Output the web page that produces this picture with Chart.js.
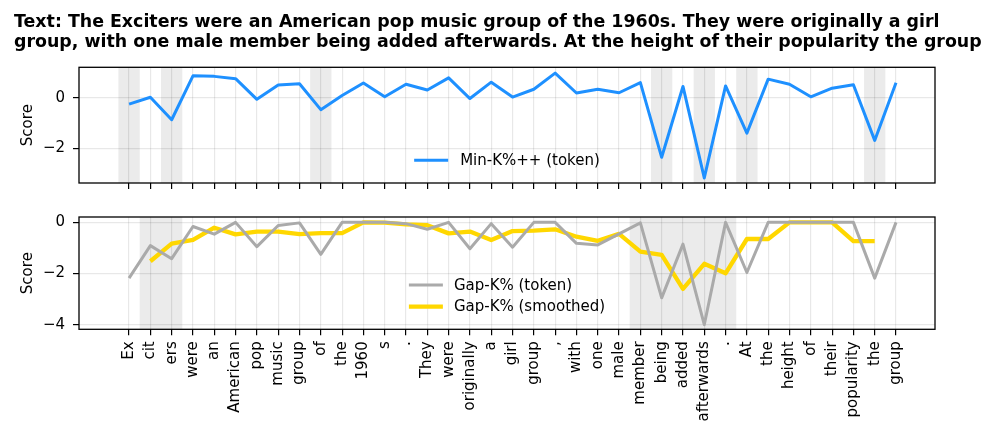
<!DOCTYPE html>
<html><head><meta charset="utf-8">
<script src="https://cdn.jsdelivr.net/npm/chart.js@4.4.1/dist/chart.umd.min.js"></script>
<style>
html,body{margin:0;padding:0;background:#fff;}
#wrap{position:relative;width:997px;height:445px;overflow:hidden;background:#fff;}
canvas{position:absolute;left:0;}
</style></head><body>
<div id="wrap">
<canvas id="c1" width="997" height="200" style="top:0"></canvas>
<canvas id="c2" width="997" height="245" style="top:200px"></canvas>
</div>
<script>
// ---------------- data ----------------
const titleLines = [
  "Text: The Exciters were an American pop music group of the 1960s. They were originally a girl",
  "group, with one male member being added afterwards. At the height of their popularity the group"
];
const tokens = ["Ex","cit","ers","were","an","American","pop","music","group","of","the","1960","s",".","They","were","originally","a","girl","group",",","with","one","male","member","being","added","afterwards",".","At","the","height","of","their","popularity","the","group"];
const minKToken = [-0.25, 0.02, -0.87, 0.87, 0.85, 0.76, -0.06, 0.51, 0.56, -0.47, 0.09, 0.59, 0.04, 0.54, 0.31, 0.79, -0.03, 0.62, 0.03, 0.34, 0.98, 0.19, 0.34, 0.20, 0.60, -2.36, 0.45, -3.18, 0.47, -1.40, 0.74, 0.54, 0.04, 0.38, 0.52, -1.69, 0.60];
const gapKToken = [-2.18, -0.91, -1.42, -0.16, -0.46, 0, -0.95, -0.12, -0.02, -1.25, 0, 0, 0, -0.05, -0.27, 0, -1.03, -0.05, -0.97, 0, 0, -0.82, -0.88, -0.45, -0.02, -2.95, -0.85, -4.0, 0, -1.96, 0, 0, 0, 0, 0, -2.18, 0];
const gapKSmoothed = [null, -1.52, -0.83, -0.68, -0.21, -0.47, -0.36, -0.36, -0.46, -0.42, -0.42, 0, -0.01, -0.08, -0.11, -0.43, -0.36, -0.69, -0.34, -0.32, -0.27, -0.56, -0.72, -0.45, -1.14, -1.27, -2.60, -1.62, -1.99, -0.65, -0.65, 0, 0, 0, -0.73, -0.73, null];
const topShaded = [0, 2, 9, 25, 27, 29, 35];
const bottomShaded = [1, 2, 24, 25, 26, 27, 28];
const topYTicks = [0, -2];
const bottomYTicks = [0, -2, -4];

// ---------------- style ----------------
const FONT = "'DejaVu Sans', 'Liberation Sans', sans-serif";
Chart.defaults.font.family = FONT;
Chart.defaults.font.size = 15;
Chart.defaults.color = '#000';
Chart.defaults.animation = false;
const GRID = 'rgba(0,0,0,0.09)';
const fmt = v => (v < 0 ? '\u2212' + Math.abs(v) : String(v));

function mergeSpans(idx) {
  const s = [...idx].sort((a, b) => a - b), out = [];
  s.forEach(i => {
    if (out.length && out[out.length - 1][1] === i - 0.5) out[out.length - 1][1] = i + 0.5;
    else out.push([i - 0.5, i + 0.5]);
  });
  return out;
}

const shadePlugin = {
  id: 'shade',
  beforeDraw(chart, args, opts) {
    const { ctx, chartArea: a, scales: { x } } = chart;
    ctx.save();
    ctx.fillStyle = opts.color;
    mergeSpans(opts.indices || []).forEach(([l, r]) => {
      const x0 = x.getPixelForValue(l), x1 = x.getPixelForValue(r);
      ctx.fillRect(x0, a.top, x1 - x0, a.bottom - a.top);
    });
    ctx.restore();
  }
};
const legendPlugin = {
  id: 'inLegend',
  afterDatasetsDraw(chart, args, opts) {
    const { ctx, chartArea: a } = chart;
    const ds = chart.data.datasets;
    ctx.save();
    ctx.font = '15px ' + FONT;
    const tw = Math.max(...ds.map(d => ctx.measureText(d.label).width));
    const total = opts.sample + opts.gap + tw;
    const left = (a.left + a.right) / 2 - total / 2;
    ds.forEach((d, k) => {
      const cy = a.bottom - opts.bottomOffset - (ds.length - 1 - k) * opts.spacing;
      ctx.strokeStyle = d.borderColor; ctx.lineWidth = d.borderWidth; ctx.lineCap = 'butt';
      ctx.beginPath(); ctx.moveTo(left, cy); ctx.lineTo(left + opts.sample, cy); ctx.stroke();
      ctx.fillStyle = '#000'; ctx.textBaseline = 'middle'; ctx.textAlign = 'left';
      ctx.fillText(d.label, left + opts.sample + opts.gap, cy + 1);
    });
    ctx.restore();
  }
};
const framePlugin = {
  id: 'frame',
  afterDraw(chart) {
    const { ctx, chartArea: a } = chart;
    ctx.save();
    ctx.strokeStyle = '#000'; ctx.lineWidth = 1.3;
    ctx.strokeRect(a.left, a.top, a.right - a.left, a.bottom - a.top);
    ctx.restore();
  }
};
// Multi-line title drawn without width squeezing
const textTitlePlugin = {
  id: 'textTitle',
  afterDraw(chart, args, opts) {
    const { ctx } = chart;
    ctx.save();
    ctx.font = 'bold ' + opts.size + 'px ' + FONT;
    ctx.fillStyle = '#000'; ctx.textAlign = 'left'; ctx.textBaseline = 'alphabetic';
    opts.lines.forEach((t, k) => ctx.fillText(t, opts.x, opts.baseline + k * opts.lineGap));
    ctx.restore();
  }
};

const xIdx = tokens.map((t, i) => i);
function xAxis(showLabels, height) {
  return {
    type: 'linear', min: -2.35, max: 37.83,
    afterBuildTicks: s => { s.ticks = xIdx.map(v => ({ value: v })); },
    afterFit: s => { s.height = height; },
    ticks: {
      display: showLabels, autoSkip: false, minRotation: 90, maxRotation: 90, padding: 6,
      callback: v => tokens[v]
    },
    grid: { color: GRID, lineWidth: 1.2, tickColor: '#000', tickWidth: 1.2, tickLength: 6, drawTicks: true },
    border: { display: false }
  };
}
function yAxis(min, max, ticks) {
  return {
    min, max,
    afterBuildTicks: s => { s.ticks = ticks.map(v => ({ value: v })); },
    afterFit: s => { s.width = 65; },
    ticks: { callback: v => fmt(v), padding: 8 },
    grid: { color: GRID, lineWidth: 1.2, tickColor: '#000', tickWidth: 1.2, tickLength: 6, drawTicks: true },
    border: { display: false },
    title: { display: true, text: 'Score', padding: { top: 5, bottom: 0 } }
  };
}

new Chart(document.getElementById('c1'), {
  type: 'line',
  data: {
    labels: xIdx,
    datasets: [{
      label: 'Min-K%++ (token)', data: minKToken.map((v, i) => ({ x: i, y: v })),
      borderColor: '#1E90FF', borderWidth: 3, pointRadius: 0, tension: 0, fill: false,
      borderJoinStyle: 'round'
    }]
  },
  options: {
    responsive: false, animation: false,
    layout: { padding: { left: 14, right: 62, top: 67.3, bottom: 0 } },
    scales: { x: xAxis(false, 13.3), y: yAxis(-3.38, 1.21, topYTicks) },
    plugins: {
      legend: { display: false }, tooltip: { enabled: false }, title: { display: false },
      textTitle: { lines: titleLines, size: 17.4, x: 14, baseline: 27.3, lineGap: 19.6 },
      shade: { color: '#ebebeb', indices: topShaded },
      inLegend: { sample: 34, gap: 12, bottomOffset: 22.7, spacing: 21.7 }
    }
  },
  plugins: [shadePlugin, legendPlugin, framePlugin, textTitlePlugin]
});

new Chart(document.getElementById('c2'), {
  type: 'line',
  data: {
    labels: xIdx,
    datasets: [{
      label: 'Gap-K% (token)', data: gapKToken.map((v, i) => ({ x: i, y: v })),
      borderColor: '#AAAAAA', borderWidth: 3, pointRadius: 0, tension: 0, fill: false,
      borderJoinStyle: 'round'
    }, {
      label: 'Gap-K% (smoothed)', data: gapKSmoothed.map((v, i) => ({ x: i, y: v })),
      borderColor: '#FFD700', borderWidth: 4.3, pointRadius: 0, tension: 0, fill: false,
      borderJoinStyle: 'round'
    }]
  },
  options: {
    responsive: false, animation: false,
    layout: { padding: { left: 14, right: 62, top: 10, bottom: 0 } },
    scales: { x: xAxis(true, 115.7), y: yAxis(-4.18, 0.21, bottomYTicks) },
    plugins: {
      legend: { display: false }, tooltip: { enabled: false },
      shade: { color: '#ebebeb', indices: bottomShaded },
      inLegend: { sample: 34, gap: 11, bottomOffset: 22.7, spacing: 21.7 }
    }
  },
  plugins: [shadePlugin, legendPlugin, framePlugin]
});
</script>
</body></html>
